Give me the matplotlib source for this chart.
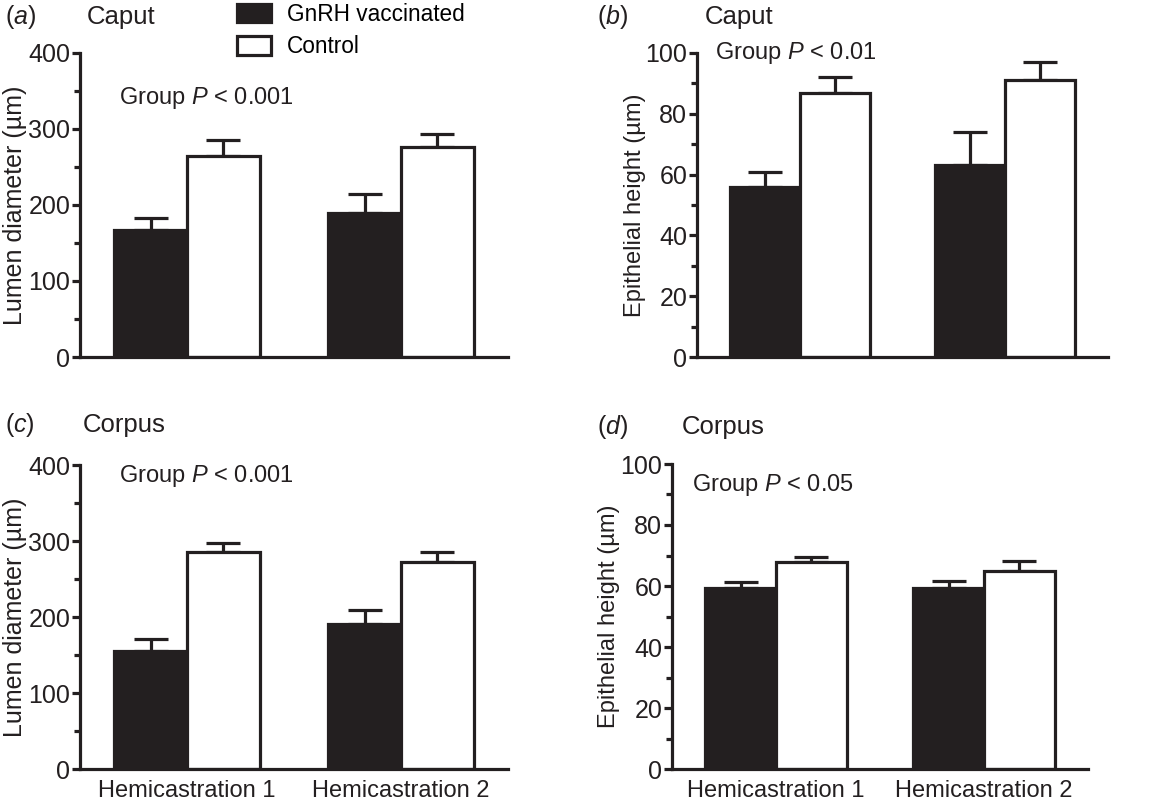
import numpy as np
import matplotlib
matplotlib.use("Agg")
import matplotlib.pyplot as plt
from matplotlib.patches import Patch
from matplotlib.ticker import MultipleLocator

plt.rcParams['font.family'] = ['Liberation Sans', 'DejaVu Sans']
plt.rcParams['mathtext.fontset'] = 'custom'
plt.rcParams['mathtext.rm'] = 'Liberation Sans'
plt.rcParams['mathtext.it'] = 'Liberation Sans:italic'

# data (mean, upper SEM)
groups = ['Hemicastration 1', 'Hemicastration 2']
series = ['GnRH vaccinated', 'Control']

caput_lumen = [167, 264, 190, 276]
caput_lumen_err = [16, 22, 24, 17]
caput_epi = [56, 87, 63, 91]
caput_epi_err = [5, 5, 11, 6]
corpus_lumen = [155, 286, 191, 272]
corpus_lumen_err = [16, 12, 18, 13]
corpus_epi = [59.5, 68, 59.5, 65]
corpus_epi_err = [1.7, 1.6, 2.2, 3.3]

dark = '#231f20'
fs = 17
lw = 2.3

fig = plt.figure(figsize=(11.7, 8.05), dpi=100)


def panel(rect, vals, errs, ymax, ystep, ylabel, ylfs, ptext, pxy, xlabels):
    ax = fig.add_axes(rect)
    x = np.arange(len(groups))
    w = 0.34
    vals = np.array(vals).reshape(2, 2)
    errs = np.array(errs).reshape(2, 2)
    for i, (fc, off) in enumerate([(dark, -w / 2), ('white', w / 2)]):
        ax.bar(x + off, vals[:, i], w, color=fc, edgecolor=dark, linewidth=lw,
               zorder=2)
        ax.errorbar(x + off, vals[:, i], yerr=[np.zeros(2), errs[:, i]],
                    fmt='none', ecolor=dark, elinewidth=lw, capsize=12,
                    capthick=lw, zorder=1)
    ax.set_xlim(-0.5, 1.5)
    ax.set_ylim(0, ymax)
    ax.yaxis.set_major_locator(MultipleLocator(ystep))
    ax.yaxis.set_minor_locator(MultipleLocator(ystep / 2))
    for s in ['top', 'right']:
        ax.spines[s].set_visible(False)
    for s in ['left', 'bottom']:
        ax.spines[s].set_linewidth(lw)
        ax.spines[s].set_color(dark)
    ax.tick_params(axis='y', which='major', length=6, width=lw, labelsize=18,
                   pad=1, colors=dark)
    ax.tick_params(axis='y', which='minor', length=4, width=lw, colors=dark)
    ax.set_xticks(x)
    if xlabels:
        ax.set_xticklabels(groups, fontsize=fs)
    else:
        ax.set_xticklabels([])
    ax.tick_params(axis='x', length=0, pad=8, colors=dark)
    ax.set_ylabel(ylabel, fontsize=ylfs, color=dark)
    ax.yaxis.set_label_coords(-0.125, 0.5)
    ax.text(pxy[0], pxy[1], ptext, fontsize=fs, ha='left', va='center',
            color=dark)
    return ax


H = 805.0
W = 1170.0


def rect(l, r, b, t):
    return [l / W, 1 - b / H, (r - l) / W, (b - t) / H]


lum = 'Lumen diameter (µm)'
epi = 'Epithelial height (µm)'

ax_a = panel(rect(80, 508, 357, 53), caput_lumen, caput_lumen_err, 400, 100,
             lum, 18, 'Group $P$ < 0.001', (-0.32, 341), False)
ax_b = panel(rect(697, 1108, 357, 53), caput_epi, caput_epi_err, 100, 20,
             epi, 17, 'Group $P$ < 0.01', (-0.41, 100), False)
ax_c = panel(rect(80, 508, 769, 465), corpus_lumen, corpus_lumen_err, 400, 100,
             lum, 18, 'Group $P$ < 0.001', (-0.32, 385), True)
ax_d = panel(rect(672, 1088, 769, 464), corpus_epi, corpus_epi_err, 100, 20,
             epi, 17, 'Group $P$ < 0.05', (-0.405, 93.2), True)

# panel letters and region titles
for lx, ly, letter, tx, title in [(5, 17, 'a', 87, 'Caput'),
                                  (597, 17, 'b', 705, 'Caput'),
                                  (5, 425, 'c', 83, 'Corpus'),
                                  (597, 427, 'd', 682, 'Corpus')]:
    fig.text(lx / W, 1 - ly / H, '($' + letter + '$)', fontsize=18,
             ha='left', va='center', color=dark)
    fig.text(tx / W, 1 - ly / H, title, fontsize=18.5, ha='left', va='center',
             color=dark)

handles = [Patch(facecolor=dark, edgecolor=dark, linewidth=lw),
           Patch(facecolor='white', edgecolor=dark, linewidth=lw)]
fig.legend(handles, series, loc='upper left',
           bbox_to_anchor=(235 / W, 1 - 1 / H), frameon=False, fontsize=16.3,
           handlelength=1.5, handleheight=0.85, handletextpad=0.7,
           labelspacing=0.4, borderaxespad=0, borderpad=0.1)

fig.savefig('out.png', dpi=100)
